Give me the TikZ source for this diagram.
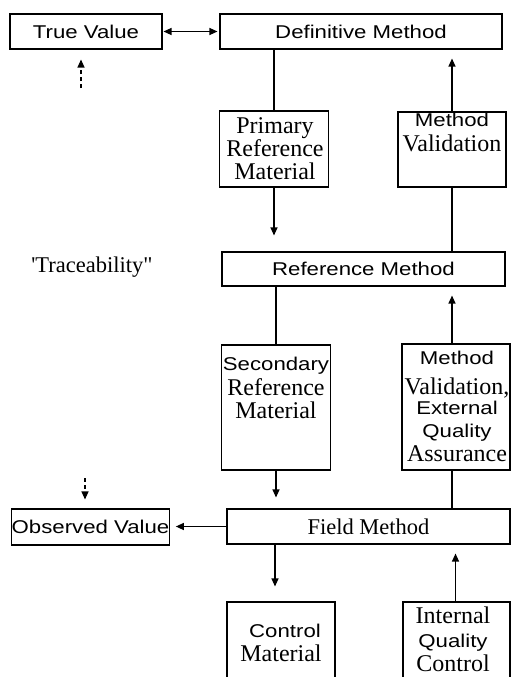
\documentclass[tikz,border=0pt]{standalone}
\usepackage{fontspec}
\setmainfont{Liberation Serif}
\newfontfamily\sansf[FakeStretch=1.2]{Liberation Sans}
\usetikzlibrary{arrows.meta}
\begin{document}
\begin{tikzpicture}[x=1pt,y=-1pt,
  box/.style={draw, line width=1.1pt, inner sep=0pt},
  st/.style={font=\sansf\fontsize{18.5}{20}\selectfont, inner sep=0pt},
  rt/.style={font=\fontsize{24}{24}\selectfont, inner sep=0pt},
  rts/.style={font=\fontsize{22.5}{23}\selectfont, inner sep=0pt},
  ln/.style={line width=1.2pt},
  arr/.style={ln, -{Triangle[length=8pt,width=7pt]}},
  darr/.style={ln, {Triangle[length=8pt,width=7pt]}-{Triangle[length=8pt,width=7pt]}},
  dasharr/.style={arr, dash pattern=on 4pt off 3pt}]
\clip (0,0) rectangle (511,677);
\fill[white] (0,0) rectangle (511,677);

% boxes
\node[box, st, minimum width=152pt, minimum height=35pt] (tv) at (86,31.5) {True Value};
\node[box, st, minimum width=282pt, minimum height=35pt] (dm) at (361,31.5) {Definitive Method};
\node[box, minimum width=109pt, minimum height=76pt] (prm) at (274,149) {};
\node[box, minimum width=108pt, minimum height=75pt] (mv1) at (452,149.5) {};
\node[box, st, minimum width=283pt, minimum height=34pt] (rm) at (363.5,269) {Reference Method};
\node[box, minimum width=109pt, minimum height=125pt] (srm) at (276,407.5) {};
\node[box, minimum width=108pt, minimum height=126pt] (mv2) at (456,407) {};
\node[box, st, minimum width=157pt, minimum height=36pt] (ov) at (90.5,527) {Observed Value};
\node[box, rts, minimum width=283pt, minimum height=35pt] (fm) at (368.5,526.5) {Field Method};
\node[box, minimum width=108pt, minimum height=110pt] (cm) at (281,657) {};
\node[box, minimum width=107pt, minimum height=110pt] (iqc) at (456.5,657) {};

% texts inside tall boxes
\node[rt, anchor=base] (prm1) at (275,133) {Primary};
\node[rt, anchor=base] (prm2) at (275,156) {Reference};
\node[rt, anchor=base] (prm3) at (275,179) {Material};

\node[st, anchor=base] (mv1a) at (452,126) {Method};
\node[rt, anchor=base] (mv1b) at (452,151) {Validation};

\node[rts, anchor=base] at (92,272) (trace) {\textquotesingle Traceability\textquotedbl};

\node[st, anchor=base] (srm1) at (276,370) {Secondary};
\node[rt, anchor=base] (srm2) at (276,395) {Reference};
\node[rt, anchor=base] (srm3) at (276,418) {Material};

\node[st, anchor=base] (mv2a) at (457,364) {Method};
\node[rt, anchor=base] (mv2b) at (457,394) {Validation,};
\node[st, anchor=base] (mv2c) at (457,414) {External};
\node[st, anchor=base] (mv2d) at (457,437) {Quality};
\node[rt, anchor=base] (mv2e) at (457,461) {Assurance};

\node[st, anchor=base] (cm1) at (285,637) {Control};
\node[rt, anchor=base] (cm2) at (281,661) {Material};

\node[rt, anchor=base] (iqc1) at (453,623) {Internal};
\node[st, anchor=base] (iqc2) at (453,647) {Quality};
\node[rt, anchor=base] (iqc3) at (453,671) {Control};

% connectors
\draw[darr, shorten <=1pt, shorten >=2pt] (tv) -- (dm);
\coordinate (tvd) at (81,88);
\draw[dasharr, shorten >=10pt] (tvd) -- (tvd |- tv.south);

\draw[ln] (prm.north) -- (prm.north |- dm.south);
\draw[arr, shorten >=16pt] (prm.south) -- (prm.south |- rm.north);
\draw[arr, shorten >=9pt] (mv1.north) -- (mv1.north |- dm.south);
\draw[ln] (mv1.south) -- (mv1.south |- rm.north);

\draw[ln] (srm.north) -- (srm.north |- rm.south);
\draw[arr, shorten >=11pt] (srm.south) -- (srm.south |- fm.north);
\draw[arr, shorten >=9pt] ([xshift=-4pt]mv2.north) -- ([xshift=-4pt]mv2.north |- rm.south);
\draw[ln] ([xshift=-4pt]mv2.south) -- ([xshift=-4pt]mv2.south |- fm.north);

\draw[arr, shorten >=6pt] (fm.west) -- (fm.west -| ov.east);
\coordinate (ovd) at (85,478);
\draw[dasharr, shorten >=9pt] (ovd) -- (ovd |- ov.north);

\draw[arr, shorten >=15pt] ([xshift=-6pt]cm.north |- fm.south) -- ([xshift=-6pt]cm.north);
\draw[arr, shorten >=9pt] ([xshift=-1pt]iqc.north) -- ([xshift=-1pt]iqc.north |- fm.south);
\end{tikzpicture}
\end{document}
